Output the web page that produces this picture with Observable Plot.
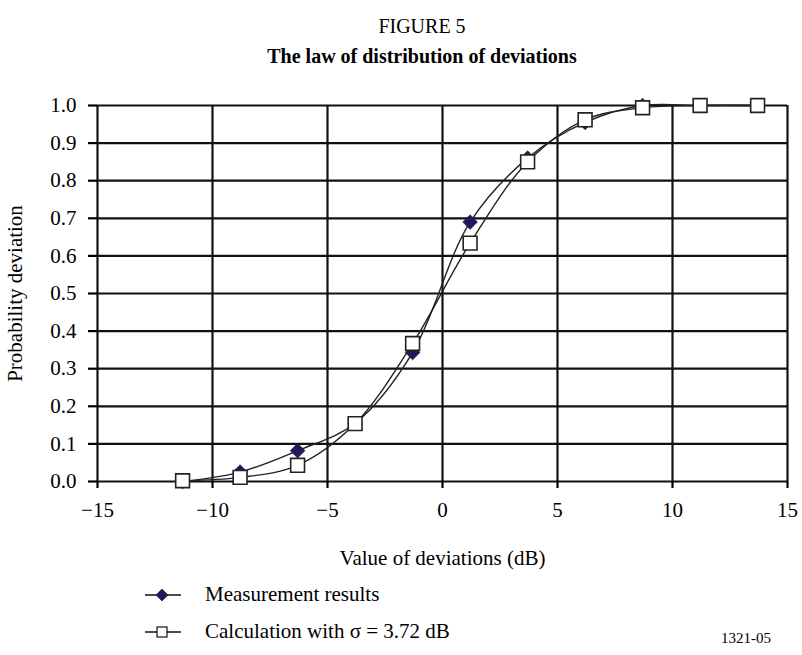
<!DOCTYPE html>
<html><head><meta charset="utf-8">
<script src="https://cdn.jsdelivr.net/npm/d3@7"></script>
<script src="https://cdn.jsdelivr.net/npm/@observablehq/plot@0.6"></script>
<style>
body{margin:0;background:#fff;}
#wrap{position:relative;width:802px;height:655px;font-family:"Liberation Serif","Times New Roman",serif;color:#000;overflow:hidden;}
.t{position:absolute;left:0;width:844px;text-align:center;line-height:1;}
#chart{position:absolute;top:85px;left:0;}
.leg{position:absolute;left:143px;font-size:21px;line-height:1;display:flex;align-items:center;}
.leg svg{margin-right:22px;}
#code{position:absolute;left:721px;top:630px;font-size:15px;}
</style></head><body>
<div id="wrap">
<div class="t" style="top:16px;font-size:20px">FIGURE 5</div>
<div class="t" style="top:46px;font-size:20px;font-weight:bold">The law of distribution of deviations</div>
<div id="chart"></div>
<div class="leg" style="top:584px"><svg width="40" height="20"><line x1="2" y1="10" x2="38" y2="10" stroke="#111" stroke-width="1.6"/><path d="M19,4 L25,10 L19,16 L13,10 Z" fill="#1f1a5e" stroke="#111" stroke-width="0.6"/></svg><span id="l1">Measurement results</span></div>
<div class="leg" style="top:621px"><svg width="40" height="20"><line x1="2" y1="10" x2="38" y2="10" stroke="#111" stroke-width="1.6"/><rect x="14" y="5" width="10" height="10" fill="#fff" stroke="#111" stroke-width="1.2"/></svg><span id="l2">Calculation with σ = 3.72 dB</span></div>
<div id="code">1321-05</div>
</div>
<script>
const xValues = [-11.3, -8.8, -6.3, -3.8, -1.3, 1.2, 3.7, 6.2, 8.7, 11.2, 13.7];
const measured = [0.0, 0.025, 0.082, 0.155, 0.343, 0.69, 0.86, 0.955, 1.0, 1.0, 1.0];
const calculated = [0.002, 0.011, 0.043, 0.154, 0.367, 0.634, 0.85, 0.962, 0.994, 1.0, 1.0];
const xTicks = [-15, -10, -5, 0, 5, 10, 15];
const yTicks = [0, 0.1, 0.2, 0.3, 0.4, 0.5, 0.6, 0.7, 0.8, 0.9, 1.0];
const seriesNames = ["Measurement results", "Calculation with σ = 3.72 dB"];

const measData = xValues.map((x, i) => ({x, y: measured[i]}));
const calcData = xValues.map((x, i) => ({x, y: calculated[i]}));

const chart = Plot.plot({
  width: 802,
  height: 490,
  marginLeft: 97,
  marginRight: 15,
  marginTop: 20,
  marginBottom: 94,
  x: {domain: [-15, 15]},
  y: {domain: [0, 1]},
  style: {fontFamily: '"Liberation Serif","Times New Roman",serif', fontSize: "21px", background: "transparent", color: "#000"},
  marks: [
    Plot.gridX(xTicks, {stroke: "#111", strokeOpacity: 1, strokeWidth: 2.2}),
    Plot.gridY(yTicks, {stroke: "#111", strokeOpacity: 1, strokeWidth: 2.2}),
    Plot.axisX(xTicks, {tickSize: 7, tickPadding: 14, strokeWidth: 2.2, tickFormat: d3.format("d"),
      label: "Value of deviations (dB)", labelAnchor: "center", labelArrow: "none", labelOffset: 83}),
    Plot.axisY(yTicks, {tickSize: 9, tickPadding: 12, strokeWidth: 2.2, tickFormat: d3.format(".1f"),
      label: "Probability deviation", labelAnchor: "center", labelArrow: "none", labelOffset: 90}),
    Plot.line(measData, {x: "x", y: "y", curve: "catmull-rom", stroke: "#222", strokeWidth: 1.4}),
    Plot.dot(measData, {x: "x", y: "y", symbol: "diamond2", r: 6.6, fill: "#1f1a5e", stroke: "#111", strokeWidth: 0.6}),
    Plot.line(calcData, {x: "x", y: "y", curve: "catmull-rom", stroke: "#222", strokeWidth: 1.4}),
    Plot.dot(calcData, {x: "x", y: "y", symbol: "square", r: 7.8, fill: "#fff", stroke: "#222", strokeWidth: 1.6})
  ]
});
document.getElementById("chart").appendChild(chart);
document.getElementById("l1").textContent = seriesNames[0];
document.getElementById("l2").textContent = seriesNames[1];
</script>
</body></html>
